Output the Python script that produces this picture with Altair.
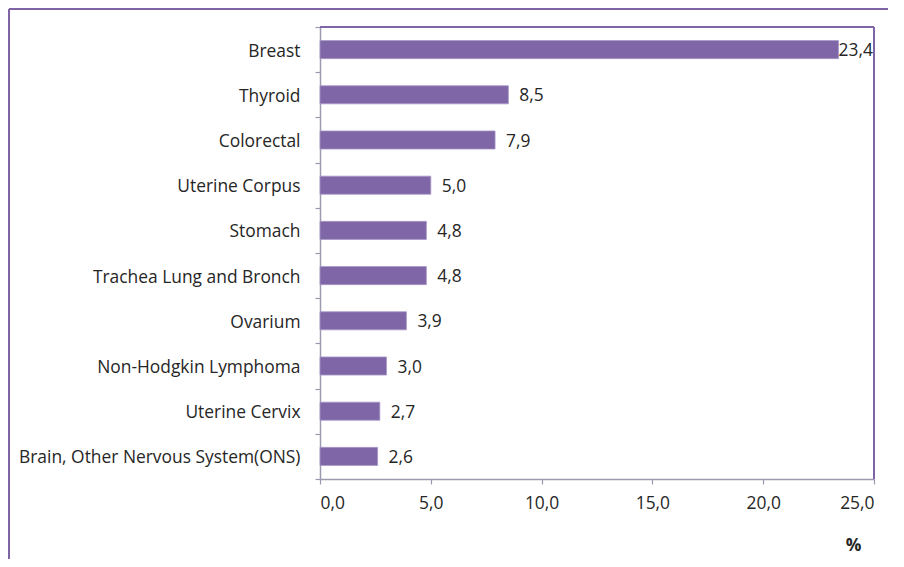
import altair as alt
import pandas as pd

categories = ["Breast", "Thyroid", "Colorectal", "Uterine Corpus", "Stomach",
              "Trachea Lung and Bronch", "Ovarium", "Non-Hodgkin Lymphoma",
              "Uterine Cervix", "Brain, Other Nervous System(ONS)"]
values = [23.4, 8.5, 7.9, 5.0, 4.8, 4.8, 3.9, 3.0, 2.7, 2.6]
x_ticks = [0, 5, 10, 15, 20, 25]

df = pd.DataFrame({"cat": categories, "v": values})

W, H = 554, 452
PAD_L, PAD_T, PAD_R, PAD_B = 312, 19, 14, 80
FONT = "Open Sans"
FS = 17.4
PURPLE = "#7f66a6"
AXIS = "#9a9ab0"
TXT = "#262626"

base = alt.Chart(df).transform_calculate(
    lab="replace(format(datum.v, '.1f'), '.', ',')"
)

y_enc = alt.Y("cat:N", sort=categories,
              scale=alt.Scale(paddingInner=0, paddingOuter=0),
              axis=alt.Axis(title=None, domainColor=AXIS, domainWidth=1.5,
                            tickColor=AXIS, tickSize=5, tickWidth=1.2,
                            tickBand="extent", labelPadding=15, labelOffset=1.5,
                            labelFont=FONT, labelFontSize=FS, labelColor=TXT,
                            labelLimit=400))
x_enc = alt.X("v:Q", scale=alt.Scale(domain=[0, 25], nice=False),
              axis=alt.Axis(values=x_ticks, grid=False,
                            labelExpr="replace(format(datum.value, '.1f'), '.', ',')",
                            domainColor=AXIS, domainWidth=1.5, tickColor=AXIS,
                            tickSize=5, tickWidth=1.2, labelPadding=10,
                            labelFont=FONT, labelFontSize=FS, labelColor=TXT,
                            title="%", titleFont=FONT, titleFontSize=FS,
                            titleFontWeight="bold", titleColor=TXT,
                            titleX=533, titleY=66, titleAlign="center",
                            titleBaseline="middle"))

bars = base.mark_bar(color=PURPLE, stroke="#a898c8", strokeWidth=0.8,
                     height={"band": 0.4}).encode(x=x_enc, y=y_enc)

labels = base.transform_filter("datum.cat != 'Breast'").mark_text(
    align="left", baseline="middle", dx=11, dy=1.5, font=FONT, fontSize=FS, color=TXT
).encode(x="v:Q", y=alt.Y("cat:N", sort=categories), text="lab:N")

label_top = base.transform_filter("datum.cat == 'Breast'").mark_text(
    align="left", baseline="middle", dx=0, dy=1.5, font=FONT, fontSize=FS, color=TXT
).encode(x="v:Q", y=alt.Y("cat:N", sort=categories), text="lab:N")

top_line = base.mark_rule(color=PURPLE, strokeWidth=1.5).encode(
    x=alt.value(0), x2=alt.value(W), y=alt.value(0))
right_line = base.mark_rule(color=PURPLE, strokeWidth=1.5).encode(
    x=alt.value(W), y=alt.value(0), y2=alt.value(H))
frame_left = base.mark_rule(color=PURPLE, strokeWidth=1.5).encode(
    x=alt.value(-PAD_L + 1), y=alt.value(-PAD_T + 1), y2=alt.value(H + PAD_B))
frame_top = base.mark_rule(color=PURPLE, strokeWidth=1.5).encode(
    x=alt.value(-PAD_L + 1), x2=alt.value(W + PAD_R), y=alt.value(-PAD_T + 1))

chart = alt.layer(bars, labels, label_top, top_line, right_line,
                  frame_left, frame_top).properties(
    width=W, height=H,
    autosize=alt.AutoSizeParams(type="none"),
    padding={"left": PAD_L, "top": PAD_T, "right": PAD_R, "bottom": PAD_B},
).configure_view(stroke=None).configure(background="white")

chart.save("out.html", embed_options={"renderer": "svg", "actions": False})
